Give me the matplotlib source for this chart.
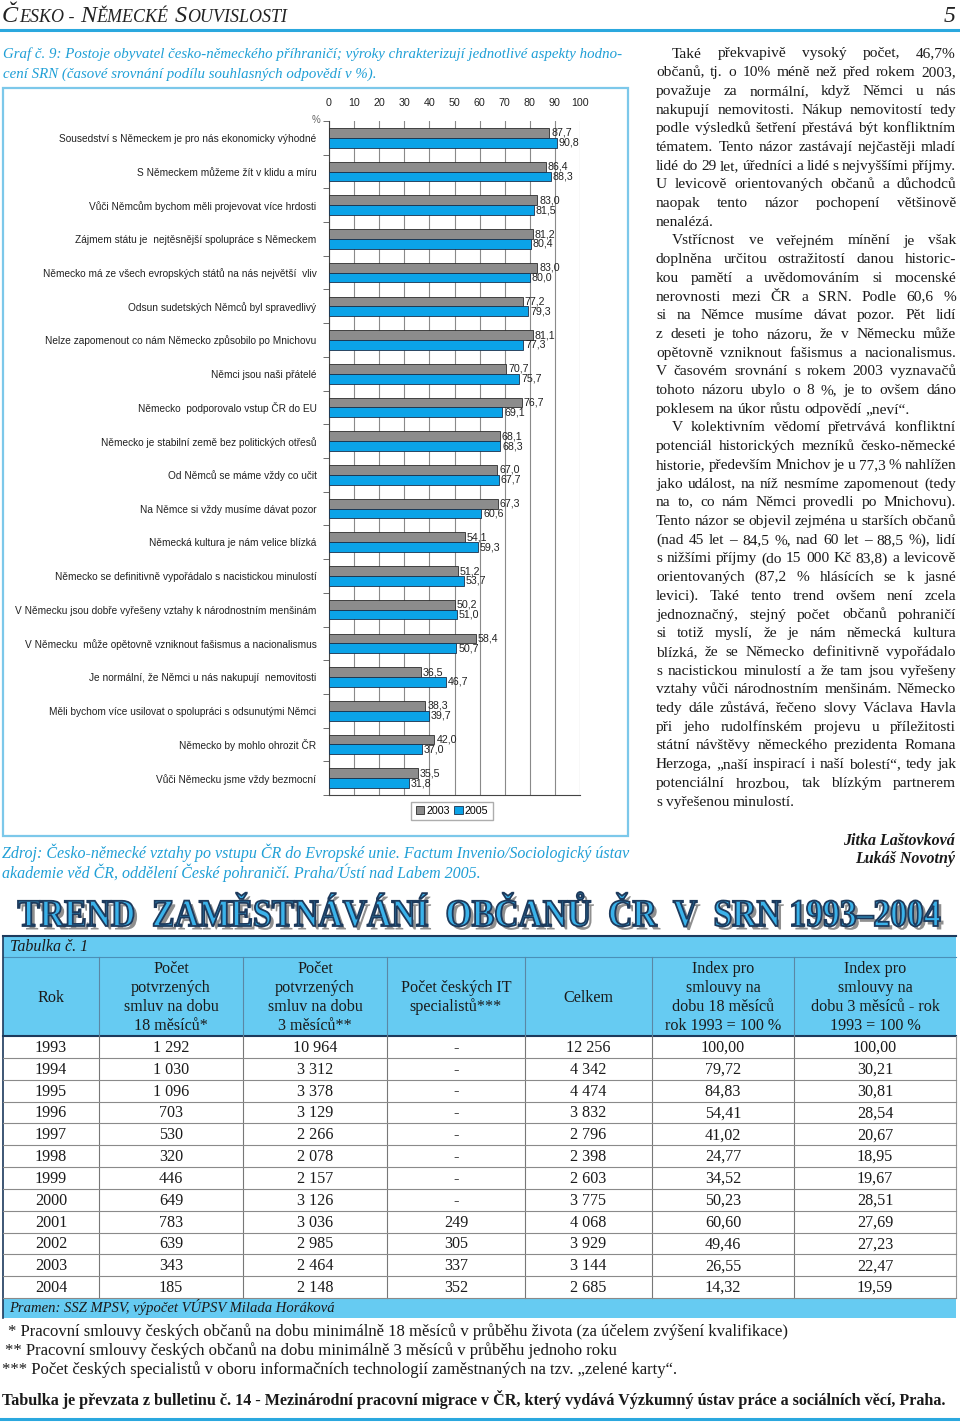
import numpy as np
import matplotlib.pyplot as plt
import matplotlib.patheffects as pe
from matplotlib.patches import Rectangle, PathPatch
from matplotlib.textpath import TextPath
from matplotlib.font_manager import FontProperties
from matplotlib.transforms import Affine2D

# graf c. 9 - podil souhlasnych odpovedi (%)
statements = [
    "Sousedství s Německem je pro nás ekonomicky výhodné",
    "S Německem můžeme žít v klidu a míru",
    "Vůči Němcům bychom měli projevovat více hrdosti",
    "Zájmem státu je  nejtěsnější spolupráce s Německem",
    "Německo má ze všech evropských států na nás největší  vliv",
    "Odsun sudetských Němců byl spravedlivý",
    "Nelze zapomenout co nám Německo způsobilo po Mnichovu",
    "Němci jsou naši přátelé",
    "Německo  podporovalo vstup ČR do EU",
    "Německo je stabilní země bez politických otřesů",
    "Od Němců se máme vždy co učit",
    "Na Němce si vždy musíme dávat pozor",
    "Německá kultura je nám velice blízká",
    "Německo se definitivně vypořádalo s nacistickou minulostí",
    "V Německu jsou dobře vyřešeny vztahy k národnostním menšinám",
    "V Německu  může opětovně vzniknout fašismus a nacionalismus",
    "Je normální, že Němci u nás nakupují  nemovitosti",
    "Měli bychom více usilovat o spolupráci s odsunutými Němci",
    "Německo by mohlo ohrozit ČR",
    "Vůči Německu jsme vždy bezmocní",
]
pct_2003 = [87.7, 86.4, 83.0, 81.2, 83.0, 77.2, 81.1, 70.7, 76.7, 68.1,
            67.0, 67.3, 54.1, 51.2, 50.2, 58.4, 36.5, 38.3, 42.0, 35.5]
pct_2005 = [90.8, 88.3, 81.5, 80.4, 80.0, 79.3, 77.3, 75.7, 69.1, 68.3,
            67.7, 60.6, 59.3, 53.7, 51.0, 50.7, 46.7, 39.7, 37.0, 31.8]

# tabulka c. 1
years = list(range(1993, 2005))
smlouvy_18 = [1292, 1030, 1096, 703, 530, 320, 446, 649, 783, 639, 343, 185]
smlouvy_3 = [10964, 3312, 3378, 3129, 2266, 2078, 2157, 3126, 3036, 2985, 2464, 2148]
it_spec = [None] * 8 + [249, 305, 337, 352]
celkem = [12256, 4342, 4474, 3832, 2796, 2398, 2603, 3775, 4068, 3929, 3144, 2685]
index_18 = [100.00, 79.72, 84.83, 54.41, 41.02, 24.77, 34.52, 50.23, 60.60, 49.46, 26.55, 14.32]
index_3 = [100.00, 30.21, 30.81, 28.54, 20.67, 18.95, 19.67, 28.51, 27.69, 27.23, 22.47, 19.59]
col_heads = [
    ["Rok"],
    ["Počet", "potvrzených", "smluv na dobu", "18 měsíců*"],
    ["Počet", "potvrzených", "smluv na dobu", "3 měsíců**"],
    ["Počet českých IT", "specialistů***"],
    ["Celkem"],
    ["Index pro", "smlouvy na", "dobu 18 měsíců", "rok 1993 = 100 %"],
    ["Index pro", "smlouvy na", "dobu 3 měsíců - rok", "1993 = 100 %"],
]

# text v pravem sloupci
paragraphs = [
    ["Také překvapivě vysoký počet, 46,7%",
     "občanů, tj. o 10% méně než před rokem 2003,",
     "považuje za normální, když Němci u nás",
     "nakupují nemovitosti. Nákup nemovitostí tedy",
     "podle výsledků šetření přestává být konfliktním",
     "tématem. Tento názor zastávají nejčastěji mladí",
     "lidé do 29 let, úředníci a lidé s nejvyššími příjmy.",
     "U levicově orientovaných občanů a důchodců",
     "naopak tento názor pochopení většinově",
     "nenalézá."],
    ["Vstřícnost ve veřejném mínění je však",
     "doplněna určitou ostražitostí danou historic-",
     "kou pamětí a uvědomováním si mocenské",
     "nerovnosti mezi ČR a SRN. Podle 60,6 %",
     "si na Němce musíme dávat pozor. Pět lidí",
     "z deseti je toho názoru, že v Německu může",
     "opětovně vzniknout fašismus a nacionalismus.",
     "V časovém srovnání s rokem 2003 vyznavačů",
     "tohoto názoru ubylo o 8 %, je to ovšem dáno",
     "poklesem na úkor růstu odpovědí „neví“."],
    ["V kolektivním vědomí přetrvává konfliktní",
     "potenciál historických mezníků česko-německé",
     "historie, především Mnichov je u 77,3 % nahlížen",
     "jako událost, na níž nesmíme zapomenout (tedy",
     "na to, co nám Němci provedli po Mnichovu).",
     "Tento názor se objevil zejména u starších občanů",
     "(nad 45 let – 84,5 %, nad 60 let – 88,5 %), lidí",
     "s nižšími příjmy (do 15 000 Kč 83,8) a levicově",
     "orientovaných (87,2 % hlásících se k jasné",
     "levici). Také tento trend ovšem není zcela",
     "jednoznačný, stejný počet občanů pohraničí",
     "si totiž myslí, že je nám německá kultura",
     "blízká, že se Německo definitivně vypořádalo",
     "s nacistickou minulostí a že tam jsou vyřešeny",
     "vztahy vůči národnostním menšinám. Německo",
     "tedy dále zůstává, řečeno slovy Václava Havla",
     "při jeho rudolfínském projevu u příležitosti",
     "státní návštěvy německého prezidenta Romana",
     "Herzoga, „naší inspirací i naší bolestí“, tedy jak",
     "potenciální hrozbou, tak blízkým partnerem",
     "s vyřešenou minulostí."],
]

SERIF = "Liberation Serif"
SANS = "Liberation Sans"
BLUE = "#1f9fd6"
LINE_BLUE = "#2ba8de"
NAVY = "#1d3a5c"
TBL_BLUE = "#66cbf2"

W, H = 960, 1427
fig = plt.figure(figsize=(W / 100, H / 100), dpi=100)
page = fig.add_axes([0, 0, 1, 1])
page.set_xlim(0, W)
page.set_ylim(H, 0)
page.axis("off")
renderer = fig.canvas.get_renderer()


def width_of(s, **kw):
    t = page.text(0, 0, s, **kw)
    w = t.get_window_extent(renderer).width
    t.remove()
    return w


def advance(s, **kw):
    return width_of("|" + s + "|", **kw) - width_of("||", **kw)


def fit_size(s, target, size, exact=False, **kw):
    w = width_of(s, fontsize=size, **kw)
    if w > target or exact:
        size = size * target / w
    return size


def fit_text(x, y, s, target, size, exact=False, **kw):
    size = fit_size(s, target, size, exact, **kw)
    return page.text(x, y, s, fontsize=size, **kw)


def justified(x0, x1, y, line, size, stretch=True, **kw):
    words = line.split()
    ws = [width_of(w, fontsize=size, **kw) for w in words]
    space = advance(" ", fontsize=size, **kw)
    natural = sum(ws) + space * 0.85 * (len(words) - 1)
    if natural > x1 - x0:
        size = size * (x1 - x0) / natural
        ws = [width_of(w, fontsize=size, **kw) for w in words]
        space = advance(" ", fontsize=size, **kw)
    gap = space
    if stretch and len(words) > 1:
        gap = (x1 - x0 - sum(ws)) / (len(words) - 1)
    x = x0
    for w, wd in zip(words, ws):
        page.text(x, y, w, fontsize=size, va="baseline", ha="left", **kw)
        x += wd + gap


# ---- page header (small caps) ----
pieces = [("Č", 17.5), ("ESKO", 13), (" - ", 13), ("N", 17.5), ("ĚMECKÉ", 13),
          (" ", 13), ("S", 17.5), ("OUVISLOSTI", 13)]
hx = 2
for s, sz in pieces:
    page.text(hx, 22, s, fontsize=sz, family=SERIF, style="italic",
              va="baseline", ha="left", color="#222")
    hx += advance(s, fontsize=sz, family=SERIF, style="italic") + 0.6
page.text(956, 22, "5", fontsize=17, family=SERIF, style="italic",
          va="baseline", ha="right", color="#222")
page.plot([0, W], [30, 30], color=LINE_BLUE, lw=2.2)

# ---- caption of the graph ----
cap1 = ("Graf č. 9: Postoje obyvatel česko-německého příhraničí; výroky chrakterizují "
        "jednotlivé aspekty hodno-")
cap_size = fit_size(cap1, 618, 11.5, exact=True, family=SERIF, style="italic")
page.text(3, 58, cap1, fontsize=cap_size, family=SERIF, style="italic", color=BLUE,
          va="baseline")
page.text(3, 78, "cení SRN (časové srovnání podílu souhlasných odpovědí v %).",
          fontsize=cap_size, family=SERIF, style="italic", color=BLUE, va="baseline")

# ---- chart ----
page.add_patch(Rectangle((3, 88), 625, 748, fill=False, ec="#7cc8ea", lw=1.6))
ax = fig.add_axes([329 / W, 1 - 795 / H, 251 / W, 674 / H])
n = len(statements)
pos = np.arange(n)
bh = 0.29
ax.barh(pos - bh / 2, pct_2003, height=bh, color="#8c8c8c", edgecolor="#2b2b2b",
        lw=0.6, label="2003", zorder=3)
ax.barh(pos + bh / 2, pct_2005, height=bh, color="#0ba3e8", edgecolor="#1b2f4a",
        lw=0.6, label="2005", zorder=3)
for i, (a, b) in enumerate(zip(pct_2003, pct_2005)):
    ax.text(a + 0.8, i - bh / 2, f"{a:.1f}".replace(".", ","), va="center", ha="left",
            fontsize=7.7, family=SANS, color="#222", zorder=4)
    ax.text(b + 0.8, i + bh / 2, f"{b:.1f}".replace(".", ","), va="center", ha="left",
            fontsize=7.7, family=SANS, color="#222", zorder=4)
ax.set_xlim(0, 100)
ax.set_ylim(n - 0.5, -0.5)
ax.xaxis.tick_top()
ax.set_xticks(range(0, 101, 10))
ax.tick_params(axis="x", length=0, pad=9, labelsize=7.7, labelcolor="#222")
for lab in ax.get_xticklabels():
    lab.set_family(SANS)
ax.set_yticks(pos)
ax.set_yticklabels(statements, fontsize=7.3, family=SANS, color="#222")
ax.set_yticks(np.arange(-0.5, n, 1), minor=True)
ax.tick_params(axis="y", which="major", length=0, pad=9)
ax.tick_params(axis="y", which="minor", length=4, color="#555", direction="out")
ax.grid(axis="x", color="#8a8a8a", lw=0.8, zorder=0)
ax.spines["top"].set_visible(False)
ax.spines["right"].set_visible(False)
ax.spines["left"].set_color("#444")
ax.spines["bottom"].set_color("#444")
page.text(316, 120, "%", ha="center", va="center", fontsize=7, color="#666", family=SANS)
ax.legend(loc="center", bbox_to_anchor=(452 / W, 1 - 811 / H), bbox_transform=fig.transFigure,
          ncol=2, frameon=True, fancybox=False, edgecolor="#999", handlelength=0.8,
          handleheight=0.8, handletextpad=0.2, columnspacing=0.4, borderpad=0.4,
          borderaxespad=0, prop={"family": SANS, "size": 7.7})

# ---- right column ----
ly = 57.5
for para in paragraphs:
    for k, line in enumerate(para):
        x0 = 672 if k == 0 else 656
        justified(x0, 956, ly, line, 11.1, stretch=(k < len(para) - 1),
                  family=SERIF, color="#1a1a1a")
        ly += 18.7

page.text(955, 845, "Jitka Laštovková", ha="right", va="baseline", fontsize=11.5,
          family=SERIF, style="italic", weight="bold", color="#1a1a1a")
page.text(955, 863, "Lukáš Novotný", ha="right", va="baseline", fontsize=11.5,
          family=SERIF, style="italic", weight="bold", color="#1a1a1a")

# ---- source ----
src1 = ("Zdroj: Česko-německé vztahy po vstupu ČR do Evropské unie. Factum Invenio/"
        "Sociologický ústav")
src_size = fit_size(src1, 626, 12, exact=True, family=SERIF, style="italic")
page.text(2, 858, src1, fontsize=src_size, family=SERIF, style="italic", color=BLUE,
          va="baseline")
page.text(2, 878, "akademie věd ČR, oddělení České pohraničí. Praha/Ústí nad Labem 2005.",
          fontsize=src_size, family=SERIF, style="italic", color=BLUE, va="baseline")

# ---- big title ----
title = "TREND  ZAMĚSTNÁVÁNÍ  OBČANŮ  ČR  V  SRN 1993–2004"
tp = TextPath((0, 0), title, size=40, prop=FontProperties(family=SERIF, weight="bold"))
bb = tp.get_extents()
sx = (940 - 18) / bb.width
sy = (926 - 892) / bb.y1
tr = Affine2D().translate(-bb.x0, 0).scale(sx, -sy).translate(18, 926)
page.add_patch(PathPatch(tp, transform=tr + page.transData, facecolor="#3ab2ea",
                         edgecolor=NAVY, lw=1.3,
                         path_effects=[pe.SimplePatchShadow(offset=(2.5, -2.5),
                                                            shadow_rgbFace="#444", alpha=0.6),
                                       pe.Normal()]))

# ---- table ----
cols = [3, 99, 243, 387, 525, 652, 794, 956]
centers = [(a + b) / 2 for a, b in zip(cols[:-1], cols[1:])]
head_top, head_bot = 957, 1036
row_h = (1298 - head_bot) / len(years)
page.add_patch(Rectangle((3, 936), 953, head_bot - 936, color=TBL_BLUE, lw=0))
page.add_patch(Rectangle((3, 1298), 953, 20, color=TBL_BLUE, lw=0))
page.text(10, 951, "Tabulka č. 1", fontsize=11.5, family=SERIF, style="italic",
          va="baseline", color="#1a1a1a")
page.plot([3, 956], [936, 936], color=NAVY, lw=1.5)
page.plot([3, 956], [head_top, head_top], color="#4a90b8", lw=0.8)
page.plot([3, 956], [head_bot, head_bot], color=NAVY, lw=1.5)
page.plot([3, 3], [936, 1318], color=NAVY, lw=1.2)
for x in cols[1:-1]:
    page.plot([x, x], [head_top, head_bot], color="#5a87a5", lw=0.8)
    page.plot([x, x], [head_bot, 1298], color="#777", lw=0.8)
page.plot([956, 956], [head_bot, 1298], color="#999", lw=0.8)
for r in range(1, len(years) + 1):
    yy = head_bot + r * row_h
    page.plot([3, 956], [yy, yy], color="#8a8a8a", lw=0.8)

for c, lines in enumerate(col_heads):
    mid = (head_top + head_bot) / 2
    for k, s in enumerate(lines):
        yy = mid + (k - (len(lines) - 1) / 2) * 19 + 5
        page.text(centers[c], yy, s, ha="center", va="baseline", fontsize=11.6,
                  family=SERIF, color="#1a1a1a")


def thou(v):
    return f"{v:,}".replace(",", " ")


for r, yr in enumerate(years):
    yy = head_bot + (r + 0.5) * row_h + 5
    cells = [str(yr), thou(smlouvy_18[r]), thou(smlouvy_3[r]),
             "-" if it_spec[r] is None else str(it_spec[r]), thou(celkem[r]),
             f"{index_18[r]:.2f}".replace(".", ","), f"{index_3[r]:.2f}".replace(".", ",")]
    for c, s in enumerate(cells):
        page.text(centers[c], yy, s, ha="center", va="baseline", fontsize=11.6,
                  family=SERIF, color="#1a1a1a")

page.text(9, 1312, "Pramen: SSZ MPSV, výpočet VÚPSV Milada Horáková", fontsize=10.5,
          family=SERIF, style="italic", va="baseline", color="#1a1a1a")

# ---- footnotes ----
notes = [
    (8, "* Pracovní smlouvy českých občanů na dobu minimálně 18 měsíců v průběhu života "
        "(za účelem zvýšení kvalifikace)"),
    (5, "** Pracovní smlouvy českých občanů na dobu minimálně 3 měsíců v průběhu jednoho roku"),
    (2, "*** Počet českých specialistů v oboru informačních technologií zaměstnaných na tzv. "
        "„zelené karty“."),
]
note_size = fit_size(notes[0][1], 777, 12, exact=True, family=SERIF)
for k, (x, s) in enumerate(notes):
    page.text(x, 1336 + k * 19, s, fontsize=note_size, family=SERIF, va="baseline",
              color="#1a1a1a")

fit_text(2, 1405, "Tabulka je převzata z bulletinu č. 14 - Mezinárodní pracovní migrace v ČR, "
         "který vydává Výzkumný ústav práce a sociálních věcí, Praha.", 948, 11.5, exact=True,
         family=SERIF, weight="bold", va="baseline", color="#1a1a1a")
page.plot([0, W], [1419, 1419], color=LINE_BLUE, lw=2.2)

fig.savefig("out.png", dpi=100)
